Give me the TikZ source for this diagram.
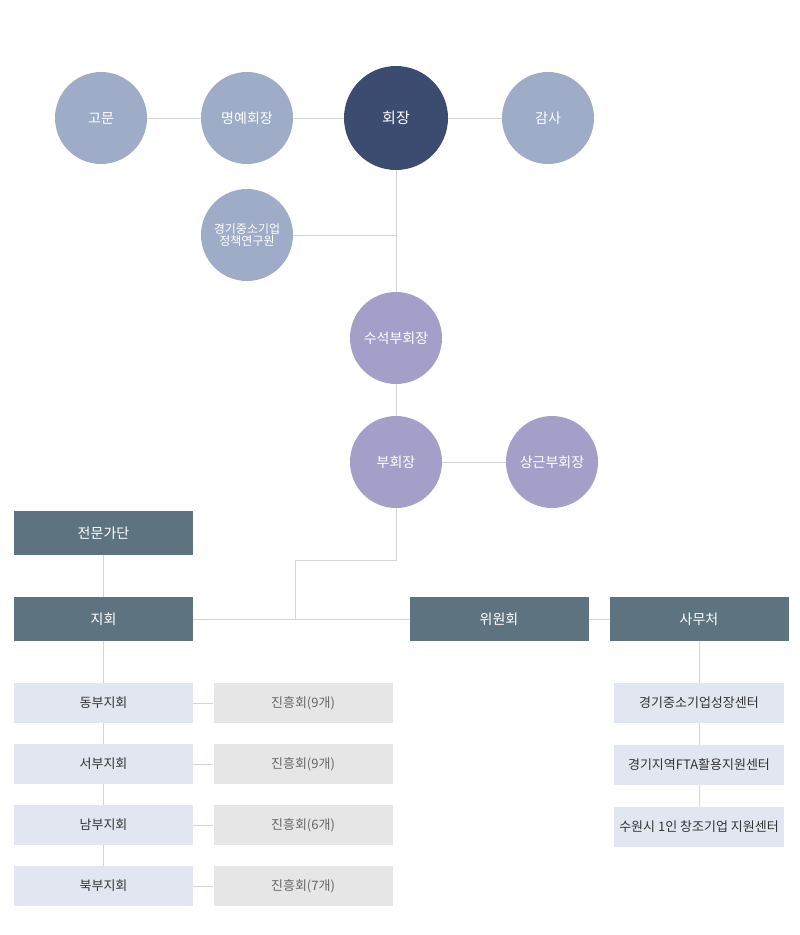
\documentclass[tikz,border=0pt]{standalone}
\usepackage{fontspec}
\setmainfont{Noto Sans CJK KR}
\usepackage{xcolor}
\usepackage{tikz}
\usetikzlibrary{positioning}
\definecolor{orgdark}{HTML}{3B4C70}
\definecolor{orglight}{HTML}{9EACC7}
\definecolor{orgpurple}{HTML}{A39FC8}
\definecolor{orgslate}{HTML}{5D7480}
\definecolor{orgpale}{HTML}{E1E6F0}
\definecolor{orggray}{HTML}{E6E6E6}
\definecolor{orgline}{HTML}{D4D4D4}
\definecolor{orgtext}{HTML}{333333}
\tikzset{
  circ/.style={circle,inner sep=0pt,minimum size=92pt,text=white,align=center,font=\fontsize{14}{16}\selectfont},
  chief/.style={circ,fill=orgdark,minimum size=104pt,font=\fontsize{15}{17}\selectfont},
  adv/.style={circ,fill=orglight},
  vice/.style={circ,fill=orgpurple},
  unit/.style={rectangle,inner sep=0pt,minimum width=179pt,minimum height=44pt,fill=orgslate,text=white,font=\fontsize{14}{16}\selectfont},
  branch/.style={rectangle,inner sep=0pt,minimum width=179pt,minimum height=40pt,fill=orgpale,text=orgtext,font=\fontsize{13}{15}\selectfont},
  club/.style={branch,fill=orggray,text=black!60},
  center/.style={branch,minimum width=170pt},
  ln/.style={draw=orgline,line width=0.9pt},
}
\begin{document}
\begin{tikzpicture}[x=1pt,y=-1pt]
  \useasboundingbox (0,0) rectangle (800,935);
  % top row
  \node[adv] (gomun) at (101,118) {고문};
  \node[adv] (myeong) at (247,118) {명예회장};
  \node[chief] (hoe) at (396,118) {회장};
  \node[adv] (gamsa) at (548,118) {감사};
  \node[adv,font=\fontsize{12}{12.5}\selectfont] (yeon) at (247,235) {경기중소기업\\정책연구원};
  \node[vice] (suseok) at (396,338) {수석부회장};
  \node[vice] (bu) at (396,462) {부회장};
  \node[vice] (sanggeun) at (552,462) {상근부회장};
  % units
  \node[unit] (jeonmun) at (103.5,533) {전문가단};
  \node[unit] (jihoe) at (103.5,619) {지회};
  \node[unit] (wiwon) at (499,619) {위원회};
  \node[unit] (samu) at (699,619) {사무처};
  % branches
  \node[branch] (dong) at (103.5,703) {동부지회};
  \node[branch] (seo) at (103.5,764) {서부지회};
  \node[branch] (nam) at (103.5,825) {남부지회};
  \node[branch] (buk) at (103.5,886) {북부지회};
  \node[club] (dongj) at (303,703) {진흥회(9개)};
  \node[club] (seoj) at (303,764) {진흥회(9개)};
  \node[club] (namj) at (303,825) {진흥회(6개)};
  \node[club] (bukj) at (303,886) {진흥회(7개)};
  \node[center] (cen1) at (699,703) {경기중소기업성장센터};
  \node[center] (cen2) at (699,765) {경기지역FTA활용지원센터};
  \node[center] (cen3) at (699,827) {수원시 1인 창조기업 지원센터};
  % connectors
  \draw[ln] (gomun) -- (myeong);
  \draw[ln] (myeong) -- (hoe);
  \draw[ln] (hoe) -- (gamsa);
  \draw[ln] (hoe.south) -- (suseok.north);
  \draw[ln] (yeon.east) -- (yeon.east -| hoe.south);
  \draw[ln] (suseok.south) -- (bu.north);
  \draw[ln] (bu) -- (sanggeun);
  \coordinate (brk) at (295,560);
  \draw[ln] (bu.south) |- (brk) -- (brk |- jihoe.east);
  \draw[ln] (jihoe.east) -- (wiwon.west);
  \draw[ln] (wiwon.east) -- (samu.west);
  \draw[ln] (jeonmun.south) -- (jihoe.north);
  \draw[ln] (jihoe.south) -- (dong.north);
  \draw[ln] (dong.south) -- (seo.north);
  \draw[ln] (seo.south) -- (nam.north);
  \draw[ln] (nam.south) -- (buk.north);
  \foreach \a/\b in {dong/dongj,seo/seoj,nam/namj,buk/bukj} {\draw[ln] (\a.east) -- (\b.west);}
  \draw[ln] (samu.south) -- (cen1.north);
  \draw[ln] (cen1.south) -- (cen2.north);
  \draw[ln] (cen2.south) -- (cen3.north);
\end{tikzpicture}
\end{document}
